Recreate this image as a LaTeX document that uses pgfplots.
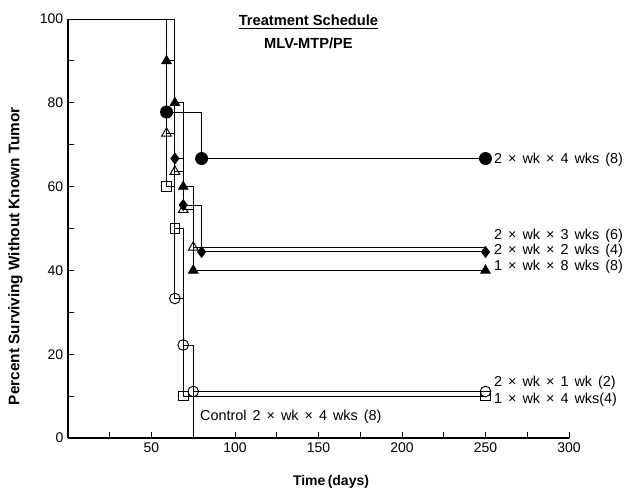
\documentclass[border=0pt]{standalone}
\usepackage{fontspec}
\setmainfont{Liberation Sans}
\newfontfamily\lbl[WordSpace=1.5]{Liberation Sans}
\usepackage{pgfplots}
\pgfplotsset{compat=1.18}

\begin{document}
\begin{tikzpicture}
\begin{axis}[
  at={(0,0)}, anchor=south west,
  scale only axis, width=375.75pt, height=314.25pt,
  xmin=0, xmax=300, ymin=0, ymax=100,
  axis x line=bottom, axis y line=left,
  axis line style={-, line width=0.9pt},
  xtick={50,100,...,300}, minor xtick={25,75,...,275},
  ytick={0,20,...,100}, minor ytick={10,30,...,90},
  tick align=inside, major tick length=4.5pt, minor tick length=4.5pt,
  tick style={black, line width=0.6pt},
  tick label style={font=\fontsize{10.5}{12}\selectfont},
  /pgf/number format/assume math mode=true,
  xlabel={\textbf{Time\,(days)}},
  xlabel style={at={(axis description cs:0.525,-0.105)}, anchor=center, font=\fontsize{10.5}{12}\selectfont},
  ylabel={\textbf{Percent Surviving Without Known Tumor}},
  ylabel style={at={(axis description cs:-0.105,0.434)}, anchor=center, font=\fontsize{11.5}{13}\selectfont},
  clip=false,
  every axis plot/.append style={black, line width=0.7pt, const plot mark left},
]
% 2 x wk x 4 wks (filled circle)
\addplot[mark=*, mark size=4.5pt, mark indices={2,3,4}] coordinates {
(0,100) (59,77.8) (80,66.7) (250,66.7)};
% 1 x wk x 8 wks (filled triangle)
\addplot[mark=triangle*, mark size=4pt, mark indices={2,3,4,5,6}] coordinates {
(0,100) (59,90) (64,80) (69,60) (75,40) (250,40)};
% 2 x wk x 3 wks (open triangle)
\addplot[mark=triangle, mark size=4.2pt, mark options={fill=white}, mark indices={2,3,4,5}] coordinates {
(0,100) (59,72.7) (64,63.6) (69,54.5) (75,45.5) (250,45.5)};
% 2 x wk x 2 wks (filled diamond)
\addplot[mark=diamond*, mark size=4pt, mark indices={2,3,4,5}] coordinates {
(0,100) (64,66.7) (69,55.6) (80,44.4) (250,44.4)};
% 1 x wk x 4 wks (open square)
\addplot[mark=square, mark size=3.6pt, mark options={fill=white}, mark indices={2,3,4,5}] coordinates {
(0,100) (59,60) (64,50) (69,10) (250,10)};
% 2 x wk x 1 wk (open circle)
\addplot[mark=o, mark size=4pt, mark options={fill=white}, mark indices={2,3,4,5}] coordinates {
(0,100) (64,33.3) (69,22.2) (75,11.1) (250,11.1)};
% control
\addplot[no marks, sharp plot] coordinates {(75,11.1) (75,0)};

\node[font=\bfseries\fontsize{11}{13}\selectfont] at (axis cs:144,99.3) {\underline{Treatment Schedule}};
\node[font=\bfseries\fontsize{11}{13}\selectfont] at (axis cs:144,94.3) {MLV-MTP/PE};

\begin{scope}[every node/.style={anchor=west, inner sep=0pt, font=\lbl\fontsize{10.8}{12}\selectfont}]
\node at (axis cs:255,66.5) {2 × wk × 4 wks (8)};
\node at (axis cs:255,48.2) {2 × wk × 3 wks (6)};
\node at (axis cs:255,44.6) {2 × wk × 2 wks (4)};
\node at (axis cs:255,40.8) {1 × wk × 8 wks (8)};
\node at (axis cs:255,13.1) {2 × wk × 1 wk (2)};
\node at (axis cs:255,9.1) {1 × wk × 4 wks(4)};
\node at (axis cs:79,5.1) {Control 2 × wk × 4 wks (8)};
\end{scope}
\end{axis}
\pgfresetboundingbox
\path (-51pt,-38.25pt) rectangle (420.75pt,328.5pt);
\end{tikzpicture}
\end{document}
